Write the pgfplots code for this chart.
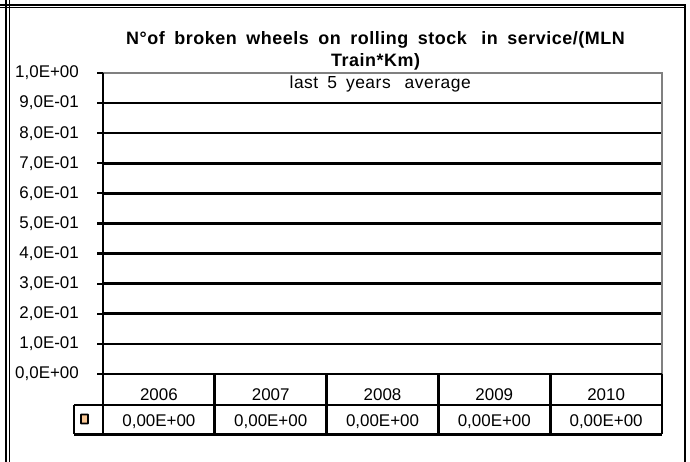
\documentclass[border=0pt]{standalone}
\usepackage{fontspec}
\setmainfont{Liberation Sans}
\usepackage{pgfplots}
\pgfplotsset{compat=1.18}
\definecolor{peach}{RGB}{250,200,150}
\definecolor{bordergray}{RGB}{128,128,128}
\newcommand{\lab}{\fontsize{17}{20}\selectfont}
\newfontfamily\spacedbold[LetterSpace=3]{Liberation Sans}
\newfontfamily\spaced[LetterSpace=3]{Liberation Sans}
\newcommand{\titlefont}{\spacedbold\bfseries\fontsize{18}{22}\selectfont\spaceskip=9.5bp plus 1bp\relax}
\newcommand{\subfont}{\spaced\fontsize{17.5}{20}\selectfont\spaceskip=9bp plus 1bp\relax}
\begin{document}
\begin{tikzpicture}[x=1bp,y=1bp]
\path[use as bounding box] (0,0) rectangle (690,462);
% outer frame
\draw[line width=1.6bp] (0,457.2) -- (686,457.2);
\draw[line width=1.6bp] (0,454.6) -- (686,454.6);
\draw[line width=1.6bp] (6.2,462) -- (6.2,0);
\draw[line width=1.6bp] (9.4,462) -- (9.4,0);
\draw[line width=2.6bp] (685,457.9) -- (685,0);
\begin{axis}[
  at={(103bp,88bp)}, anchor=south west,
  scale only axis, width=559bp, height=301bp,
  xmin=0.5, xmax=5.5, ymin=0, ymax=1,
  clip=false,
  axis line style={draw=none},
  ybar, bar width=40bp,
  xtick={1,2,3,4,5},
  xticklabels={2006,2007,2008,2009,2010},
  x tick style={draw=none},
  xticklabel style={anchor=base, yshift=-20.5bp, inner sep=0pt, font=\lab},
  ytick={0,0.1,0.2,0.3,0.4,0.5,0.6,0.7,0.8,0.9,1},
  yticklabels={{0,0E+00},{1,0E-01},{2,0E-01},{3,0E-01},{4,0E-01},{5,0E-01},{6,0E-01},{7,0E-01},{8,0E-01},{9,0E-01},{1,0E+00}},
  yticklabel style={anchor=east, inner sep=0pt, xshift=-18bp, font=\lab},
  ytick pos=left,
  tick align=outside,
  major tick length=6bp,
  y tick style={black, line width=2.2bp},
  ymajorgrids,
  grid style={black, line width=2.6bp},
  title={N°of broken wheels on rolling stock\hspace{5bp} in service/(MLN\\Train*Km)},
  title style={at={(0.4875,1)}, anchor=center, yshift=16bp, align=center,
    font=\titlefont},
]
\addplot[fill=peach, draw=none,
  nodes near coords={0,00E+00},
  every node near coord/.style={anchor=base, yshift=-52.2bp, inner sep=0pt, font=\lab, black}]
  coordinates {(1,0) (2,0) (3,0) (4,0) (5,0)};
% plot area border
\draw[bordergray, line width=2.6bp] (axis cs:0.5,1) -- (axis cs:5.5,1) -- (axis cs:5.5,0);
\draw[black, line width=2.6bp] (axis cs:0.5,1) -- (axis cs:0.5,0);
\draw[black, line width=2.6bp] (axis cs:0.5,0) -- (axis cs:5.5,0);
\node[anchor=base, inner sep=0pt, font=\subfont] at (axis cs:2.98,1) [yshift=-15.5bp] {last 5 years\hspace{5bp} average};
\end{axis}
% data table lines
\begin{scope}[line width=2.8bp, black]
\draw (74,57) -- (662,57);
\draw (74,27.5) -- (662,27.5);
\draw (74,57) -- (74,27.5);
\foreach \xx in {103,214.8,326.6,438.4,550.2,662} {\draw (\xx,88) -- (\xx,27.5);}
\end{scope}
% legend key
\draw[fill=peach, line width=1.8bp, rounded corners=0.5bp] (81,38.5) rectangle (88,47.5);
\end{tikzpicture}
\end{document}
